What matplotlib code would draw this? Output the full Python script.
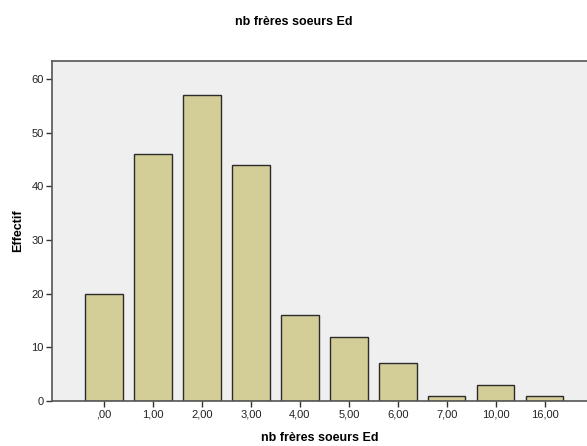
import matplotlib
matplotlib.use('Agg')
import matplotlib.pyplot as plt
import numpy as np

plt.rcParams['font.family'] = ['Liberation Sans', 'DejaVu Sans']

# Effectifs par nombre de frères et soeurs
categories = [',00', '1,00', '2,00', '3,00', '4,00', '5,00', '6,00', '7,00', '10,00', '16,00']
effectifs = [20, 46, 57, 44, 16, 12, 7, 1, 3, 1]

fig = plt.figure(figsize=(5.87, 4.46), dpi=100)
ax = fig.add_axes([52/587, 45/446, 1 - 52/587, (401-61)/446])
ax.set_facecolor('#efefef')

x = np.arange(len(categories))
ax.bar(x, effectifs, width=0.76, color='#d3ce97', edgecolor='#2b2b2b', linewidth=1.0, zorder=2)

ax.set_xlim(-1.06, 9.86)
ax.set_ylim(0, 63.4)
ax.set_xticks(x)
ax.set_xticklabels(categories)
ax.set_yticks([0, 10, 20, 30, 40, 50, 60])
ax.tick_params(axis='both', labelsize=8, length=4, width=1, color='#333333',
               labelcolor='#222222', pad=2)

for side in ['left', 'bottom', 'top']:
    ax.spines[side].set_color('#555555')
    ax.spines[side].set_linewidth(1.2)
ax.spines['right'].set_visible(False)

ax.set_xlabel('nb frères soeurs Ed', fontsize=9, fontweight='bold', labelpad=9)
ax.set_ylabel('Effectif', fontsize=9, fontweight='bold', labelpad=5)
fig.text(0.5, 1 - 22/446, 'nb frères soeurs Ed', ha='center', va='center', fontsize=9, fontweight='bold')

fig.savefig('out.png', dpi=100)
